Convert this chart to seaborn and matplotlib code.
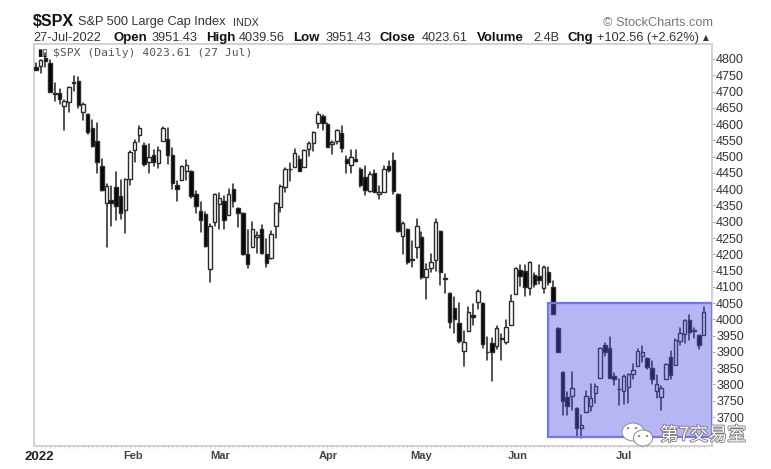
import pandas as pd
import matplotlib
matplotlib.use('Agg')
import matplotlib.pyplot as plt
import matplotlib.patheffects as pe
from matplotlib.patches import Ellipse, Rectangle
from matplotlib.transforms import IdentityTransform
import seaborn as sns

# daily candles, Dec 31 then Jan 3 .. Jul 27
opens = [4775, 4778, 4804, 4787, 4693, 4697, 4655, 4669, 4728, 4733, 4637, 4632, 4588, 4547, 4471, 4356, 4366, 4408, 4380, 4336, 4431,
         4519, 4566, 4535, 4482, 4505, 4480, 4547, 4553, 4506, 4412, 4429, 4455, 4456, 4384, 4332, 4324, 4155, 4298, 4354,
         4363, 4322, 4401, 4342, 4327, 4202, 4223, 4252, 4279, 4202, 4188, 4288, 4345, 4407, 4462, 4469, 4493, 4469, 4522, 4541, 4602, 4624, 4599,
         4540, 4547, 4572, 4494, 4474, 4494, 4462, 4437, 4394, 4449, 4385, 4390, 4472, 4489, 4385, 4255, 4278, 4186, 4222, 4253,
         4130, 4159, 4181, 4270, 4128, 4081, 4035, 3990, 3903, 3963, 4013, 4052, 4051, 3899, 3927, 3919, 3942, 3929, 3984, 4077, 4151,
         4149, 4095, 4137, 4134, 4096, 4147, 4101, 3974, 3838, 3763, 3764, 3728, 3665, 3715, 3733, 3774, 3821, 3920, 3913, 3825, 3785,
         3781, 3792, 3831, 3858, 3888, 3880, 3851, 3779, 3763, 3818, 3883, 3860, 3935, 3955, 3998, 3965, 3953, 3951]
highs = [4787, 4796, 4818, 4797, 4725, 4707, 4673, 4714, 4749, 4745, 4665, 4632, 4611, 4602, 4494, 4417, 4411, 4453, 4428, 4432, 4516,
         4550, 4595, 4542, 4540, 4521, 4531, 4590, 4588, 4526, 4426, 4472, 4489, 4456, 4394, 4362, 4329, 4294, 4385, 4388,
         4378, 4401, 4416, 4342, 4327, 4276, 4299, 4268, 4291, 4247, 4271, 4358, 4412, 4465, 4481, 4522, 4501, 4520, 4546, 4575, 4637, 4627, 4603,
         4548, 4583, 4593, 4503, 4521, 4520, 4464, 4471, 4453, 4460, 4411, 4471, 4488, 4512, 4385, 4299, 4278, 4240, 4308, 4269,
         4169, 4200, 4307, 4270, 4140, 4081, 4068, 4050, 3964, 4038, 4046, 4090, 4051, 3945, 3943, 3981, 3955, 3999, 4075, 4158, 4168,
         4166, 4177, 4142, 4168, 4164, 4160, 4119, 3974, 3838, 3778, 3837, 3728, 3707, 3779, 3801, 3802, 3913, 3927, 3945, 3836, 3818,
         3829, 3832, 3863, 3910, 3918, 3880, 3873, 3829, 3796, 3863, 3902, 3939, 3974, 3999, 4012, 3975, 3953, 4039]
lows = [4765, 4758, 4774, 4699, 4671, 4662, 4582, 4638, 4702, 4650, 4614, 4568, 4530, 4449, 4395, 4222, 4287, 4304, 4309, 4264, 4414,
        4483, 4544, 4470, 4451, 4471, 4465, 4547, 4477, 4401, 4364, 4429, 4429, 4373, 4327, 4267, 4221, 4114, 4286, 4279,
        4279, 4322, 4345, 4284, 4199, 4157, 4223, 4205, 4200, 4161, 4187, 4251, 4329, 4390, 4424, 4469, 4455, 4469, 4501, 4517, 4589, 4581, 4530,
        4507, 4539, 4514, 4450, 4450, 4485, 4408, 4381, 4392, 4390, 4370, 4390, 4452, 4384, 4267, 4200, 4169, 4162, 4188, 4124,
        4062, 4147, 4148, 4106, 4081, 3975, 3958, 3928, 3858, 3963, 3983, 4033, 3911, 3876, 3810, 3909, 3875, 3925, 3984, 4077, 4104,
        4073, 4074, 4098, 4109, 4080, 4107, 4017, 3900, 3705, 3705, 3722, 3639, 3636, 3715, 3717, 3743, 3821, 3889, 3820, 3799, 3738,
        3741, 3742, 3817, 3858, 3869, 3847, 3802, 3759, 3721, 3817, 3818, 3860, 3922, 3927, 3938, 3943, 3910, 3951]
closes = [4766, 4796, 4793, 4700, 4696, 4677, 4670, 4713, 4726, 4659, 4662, 4577, 4532, 4482, 4397, 4410, 4356, 4349, 4326, 4431, 4515,
          4546, 4589, 4477, 4500, 4483, 4521, 4587, 4504, 4418, 4401, 4471, 4475, 4380, 4348, 4304, 4225, 4288, 4384, 4373,
          4306, 4386, 4363, 4328, 4201, 4170, 4277, 4259, 4204, 4173, 4262, 4357, 4411, 4463, 4461, 4511, 4456, 4520, 4543, 4575, 4631, 4602, 4530,
          4545, 4582, 4525, 4481, 4500, 4488, 4412, 4397, 4446, 4392, 4391, 4462, 4459, 4393, 4271, 4296, 4175, 4183, 4287, 4131,
          4155, 4175, 4300, 4146, 4123, 3991, 4001, 3935, 3930, 4023, 4008, 4088, 3923, 3900, 3901, 3973, 3941, 3978, 4057, 4158, 4132,
          4101, 4176, 4108, 4121, 4160, 4115, 4017, 3900, 3749, 3735, 3789, 3666, 3674, 3764, 3759, 3795, 3911, 3900, 3821, 3818, 3785,
          3825, 3831, 3845, 3902, 3899, 3854, 3818, 3801, 3790, 3863, 3830, 3936, 3959, 3998, 3961, 3966, 3921, 4023]

price_ticks = list(range(3700, 4801, 50))
month_labels = ['2022', 'Feb', 'Mar', 'Apr', 'May', 'Jun', 'Jul']
month_pos = [-0.36, 19.6, 38.2, 61.1, 80.9, 101.4, 124]
box_left, box_right = 108, 142.8
box_low, box_high = 3639, 4050

W, H = 771, 469
sns.set_theme(style='white')
plt.rcParams['font.family'] = ['Liberation Sans', 'DejaVu Sans']

df = pd.DataFrame({'day': range(-1, len(opens) - 1), 'open': opens, 'high': highs, 'low': lows, 'close': closes})
df['up'] = df['close'] >= df['open']
df['lower'] = df[['open', 'close']].min(axis=1)
df['body'] = (df['close'] - df['open']).abs()

wicks = df.melt(id_vars='day', value_vars=['low', 'high'], value_name='price')

fig = plt.figure(figsize=(W / 100, H / 100), dpi=100, facecolor='white')
ax = fig.add_axes([34 / W, 1 - 446 / H, 678 / W, 402 / H])

sns.lineplot(data=wicks, x='day', y='price', units='day', estimator=None, color='#222222', lw=1.1, ax=ax, zorder=2)
# bodies: white for up days, black for down days
for is_up, fill in [(True, 'white'), (False, '#050505')]:
    part = df[df['up'] == is_up]
    sns.barplot(data=part, x='day', y='body', bottom=part['lower'].values, color=fill, saturation=1,
                native_scale=True, width=0.74, edgecolor='#2a2a2a', linewidth=1.0, errorbar=None,
                ax=ax, zorder=3)

ax.add_patch(Rectangle((box_left, box_low), box_right - box_left, box_high - box_low, facecolor=(0.32, 0.32, 0.9, 0.42),
                       edgecolor=(0.45, 0.45, 1.0), lw=1.6, zorder=4))

ax.set_xlim(-1.43, 142.8)
ax.set_ylim(3611, 4846)
ax.set_xlabel('')
ax.set_ylabel('')
ax.yaxis.tick_right()
ax.set_yticks(price_ticks)
ax.set_yticklabels([str(t) for t in price_ticks], fontsize=9, color='#333333')
ax.tick_params(axis='y', which='major', right=True, length=2.5, width=0.8, color='#aaaaaa', pad=0.5)
ax.set_xticks(month_pos)
ax.set_xticklabels(month_labels, fontsize=8, color='#444444', fontweight='bold')
ax.get_xticklabels()[0].set_fontsize(9.5)
ax.get_xticklabels()[0].set_color('#222222')
ax.set_xticks(df['day'], minor=True)
ax.tick_params(axis='x', which='major', bottom=False, pad=-2.5)
ax.tick_params(axis='x', which='minor', bottom=True, length=1.2, width=0.6, color='#cccccc')
for s in ax.spines.values():
    s.set_color('#cfcfcf')
    s.set_linewidth(1.3)
ax.grid(False)


def put(x, y, s, **kw):
    kw.setdefault('va', 'center')
    kw.setdefault('color', '#333333')
    return fig.text(x / W, 1 - y / H, s, **kw)


# header lines
put(33, 22, '$SPX', fontsize=11.5, fontweight='bold', color='#111111')
put(78, 22.5, 'S&P 500 Large Cap Index', fontsize=9.2)
put(233, 22.5, 'INDX', fontsize=7.8)
put(603, 22.5, '© StockCharts.com', fontsize=9.2, color='#777777')
put(33, 38, '27-Jul-2022', fontsize=9.2)
for x, s in [(113, 'Open'), (206, 'High'), (293, 'Low'), (380, 'Close'), (477, 'Volume'), (567, 'Chg')]:
    put(x, 38, s, fontsize=9.5, fontweight='bold', color='#111111')
for x, s in [(152, '3951.43'), (239, '4039.56'), (326, '3951.43'), (422, '4023.61'), (533, '2.4B'), (597, '+102.56 (+2.62%)')]:
    put(x, 38, s, fontsize=9.2)
put(703, 38, '▲', fontsize=5.5, color='#333333', family='DejaVu Sans')

# in-chart legend
put(37, 53, '▮▯', fontsize=7, color='#111111', family='DejaVu Sans')
put(53, 53, '$SPX (Daily) 4023.61 (27 Jul)', fontsize=8.2, color='#555555', family='DejaVu Sans Mono')

# wechat watermark
tr = IdentityTransform()
for cx, cy, w, h in [(633, 432, 22, 18), (643, 438, 19, 16)]:
    fig.add_artist(Ellipse((cx, H - cy), w, h, transform=tr, facecolor='white', edgecolor='#8a8a8a', lw=0.7, zorder=6))
for cx, cy in [(628, 428), (636, 428), (639, 436), (647, 436)]:
    fig.add_artist(Ellipse((cx, H - cy), 2.6, 2.2, transform=tr, facecolor='#888888', edgecolor='none', zorder=7))
put(660, 435, '第7交易室', fontsize=13.6, color='white', family=['Noto Sans CJK SC', 'DejaVu Sans'], zorder=8,
    path_effects=[pe.withStroke(linewidth=1.2, foreground='#777777')])

fig.savefig('out.png', dpi=100)
plt.close(fig)
